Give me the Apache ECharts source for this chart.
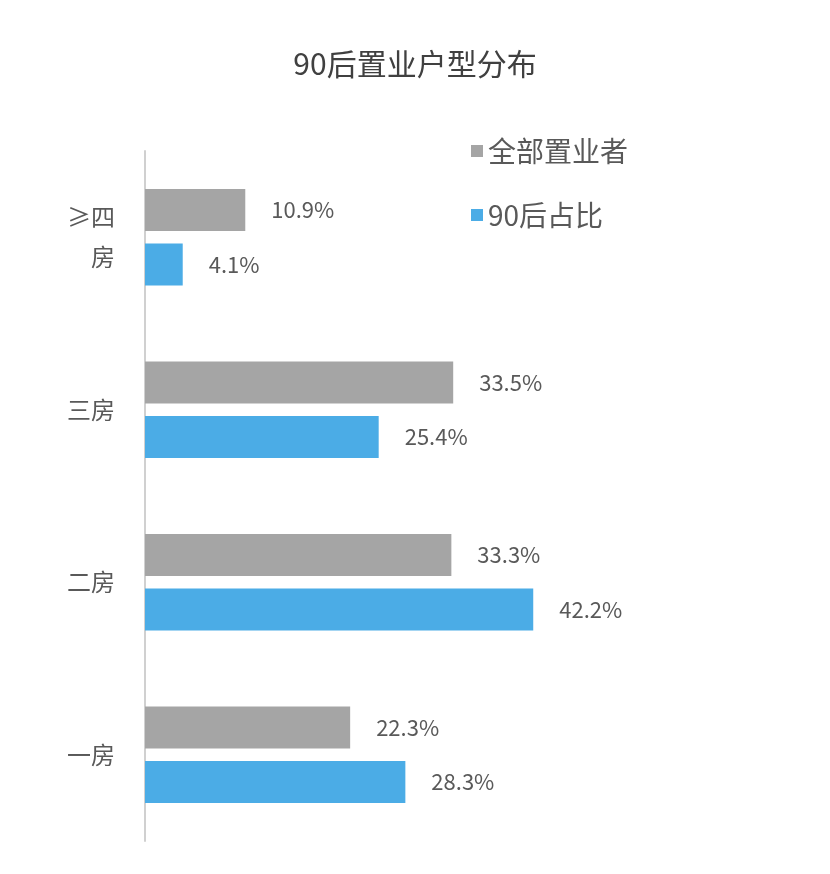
<!DOCTYPE html>
<html><head><meta charset="utf-8">
<script src="https://cdn.jsdelivr.net/npm/echarts@6/dist/echarts.min.js"></script>
<style>body{margin:0}#c{width:830px;height:874px}</style>
</head><body><div id="c"></div>
<script>
var categories = ["一房", "二房", "三房", "≥四\n房"];
var allBuyers = [22.3, 33.3, 33.5, 10.9];
var post90 = [28.3, 42.2, 25.4, 4.1];

var chart = echarts.init(document.getElementById("c"));
var font = "'Noto Sans CJK SC', sans-serif";
var label = {show: true, position: "right", distance: 26, formatter: "{c}%", color: "#595959", fontSize: 22, fontFamily: font};
chart.setOption({
  title: {text: "90后置业户型分布", left: "center", top: 44, textStyle: {color: "#404040", fontSize: 30, fontWeight: "normal", fontFamily: font}},
  legend: {data: ["全部置业者", "90后占比"], orient: "vertical", left: 466, top: 132, icon: "rect", itemWidth: 12, itemHeight: 12, itemGap: 36,
    textStyle: {color: "#595959", fontSize: 28, fontFamily: font}},
  grid: {left: 145, right: 225, top: 151, bottom: 33},
  xAxis: {type: "value", min: 0, max: 50, show: false},
  yAxis: {type: "category", data: categories, axisTick: {show: false},
    axisLine: {lineStyle: {color: "#d0d0d0", width: 2}},
    axisLabel: {color: "#595959", fontSize: 24, fontFamily: font, margin: 30, lineHeight: 40}},
  series: [
    {name: "全部置业者", type: "bar", data: allBuyers, barWidth: 42, barGap: "30%", itemStyle: {color: "#A5A5A5"}, label: label},
    {name: "90后占比", type: "bar", data: post90, barWidth: 42, itemStyle: {color: "#4BACE6"}, label: label}
  ]
});
</script></body></html>
